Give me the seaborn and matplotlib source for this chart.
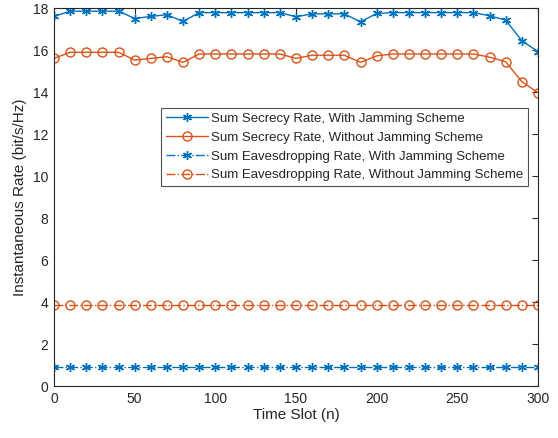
import matplotlib
matplotlib.use("Agg")
import matplotlib.pyplot as plt
import seaborn as sns
import pandas as pd
import numpy as np

time_slots = list(range(0, 301, 10))
secrecy_with = [17.6, 17.85, 17.85, 17.85, 17.85, 17.5, 17.6, 17.68, 17.36, 17.78,
                17.78, 17.78, 17.78, 17.78, 17.78, 17.58, 17.72, 17.72, 17.72, 17.34,
                17.74, 17.78, 17.78, 17.78, 17.78, 17.78, 17.78, 17.63, 17.42, 16.44,
                15.92]
secrecy_without = [15.6, 15.89, 15.89, 15.89, 15.89, 15.52, 15.6, 15.68, 15.41, 15.81,
                   15.81, 15.81, 15.81, 15.81, 15.81, 15.6, 15.75, 15.75, 15.75, 15.41,
                   15.72, 15.81, 15.81, 15.81, 15.81, 15.81, 15.81, 15.66, 15.44, 14.49,
                   13.97]
eaves_with = [0.9] * 31
eaves_without = [3.87] * 31

labels = ["Sum Secrecy Rate, With Jamming Scheme",
          "Sum Secrecy Rate, Without Jamming Scheme",
          "Sum Eavesdropping Rate, With Jamming Scheme",
          "Sum Eavesdropping Rate, Without Jamming Scheme"]

sns.set_style("white")
plt.rcParams['font.family'] = ['Liberation Sans', 'DejaVu Sans']

blue = "#0072BD"
orange = "#D95319"
axc = "#262626"

fig = plt.figure(figsize=(5.58, 4.38), dpi=100)
ax = fig.add_axes([54/558, 52/438, 484/558, 378/438])

series = [(secrecy_with, labels[0], blue, '-', (6, 2, 0), blue),
          (secrecy_without, labels[1], orange, '-', 'o', 'none'),
          (eaves_with, labels[2], blue, '-.', (6, 2, 0), blue),
          (eaves_without, labels[3], orange, '-.', 'o', 'none')]

for vals, lab, col, ls, mk, fc in series:
    df = pd.DataFrame({"x": time_slots, "y": vals})
    sns.lineplot(data=df, x="x", y="y", ax=ax, color=col, linestyle=ls,
                 marker=mk, markersize=6.5,
                 markerfacecolor=fc, markeredgecolor=col, markeredgewidth=1.0,
                 linewidth=1.0, label=lab)

ax.set_xlim(0, 300)
ax.set_ylim(0, 18)
ax.set_xticks(range(0, 301, 50))
ax.set_yticks(range(0, 19, 2))
ax.set_xlabel("Time Slot (n)", fontsize=11, color=axc, labelpad=2)
ax.set_ylabel("Instantaneous Rate (bit/s/Hz)", fontsize=11, color=axc, labelpad=4)
ax.tick_params(direction='in', length=4, width=0.8, top=True, right=True,
               labelsize=10, colors=axc, pad=4)
for s in ax.spines.values():
    s.set_visible(True)
    s.set_color(axc)
    s.set_linewidth(0.8)

leg = ax.legend(loc='upper right', bbox_to_anchor=((528-54)/484, (386-108)/378),
                fontsize=9.5, frameon=True, fancybox=False, edgecolor=axc,
                borderaxespad=0, handlelength=3.2, labelspacing=0.5,
                borderpad=0.35, handletextpad=0.25)
leg.get_frame().set_linewidth(0.8)

fig.savefig("out.png", dpi=100)
